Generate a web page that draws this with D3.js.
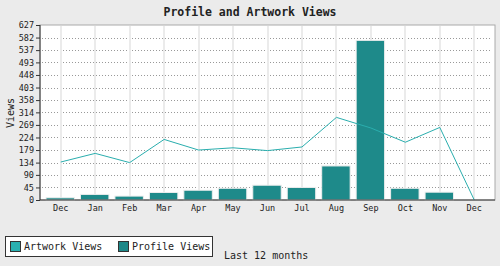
<!DOCTYPE html>
<html>
<head>
<meta charset="utf-8">
<script src="https://cdn.jsdelivr.net/npm/d3@7"></script>
<style>
  body { margin: 0; background: #ebebeb; }
  svg { display: block; font-family: "DejaVu Sans Mono", monospace; }
</style>
</head>
<body>
<svg width="500" height="266"></svg>
<script>
// data
var months = ["Dec", "Jan", "Feb", "Mar", "Apr", "May", "Jun", "Jul", "Aug", "Sep", "Oct", "Nov", "Dec"];
var artworkViews = [136, 167, 134, 217, 179, 187, 177, 190, 296, 258, 207, 260, 0];
var profileViews = [8, 20, 14, 27, 35, 42, 53, 45, 122, 572, 42, 28, 0];
var yMax = 627;
var yTicks = d3.range(15).map(function(i) { return Math.round(i * yMax / 14); });

var svg = d3.select("svg");
// plot box (note: "top" is taken by window.top, so use other names)
var plotL = 40, plotR = 495, plotT = 25, plotB = 200;

// keys are indexes because "Dec" appears twice
var x = d3.scaleBand()
    .domain(d3.range(months.length))
    .range([43.5, 491.5]);
var y = d3.scaleLinear()
    .domain([0, yMax])
    .range([plotB, plotT]);

// plot background
svg.append("rect")
    .attr("x", plotL).attr("y", plotT)
    .attr("width", plotR - plotL).attr("height", plotB - plotT)
    .attr("fill", "#fff")
    .attr("stroke", "#aaa");

// horizontal dotted grid
svg.append("g")
    .selectAll("line")
    .data(yTicks.slice(1, -1))
    .enter().append("line")
    .attr("x1", plotL + 2).attr("x2", plotR - 3)
    .attr("y1", function(d) { return Math.round(y(d)) + 0.5; })
    .attr("y2", function(d) { return Math.round(y(d)) + 0.5; })
    .attr("stroke", "#999")
    .attr("stroke-dasharray", "1,2");

// vertical grid at month centres
svg.append("g")
    .selectAll("line")
    .data(d3.range(months.length))
    .enter().append("line")
    .attr("x1", function(d) { return Math.round(x(d) + x.bandwidth() / 2); })
    .attr("x2", function(d) { return Math.round(x(d) + x.bandwidth() / 2); })
    .attr("y1", plotT + 1).attr("y2", plotB)
    .attr("stroke", "#ebebeb")
    .attr("stroke-width", 2);

// profile views bars
svg.append("g")
    .selectAll("rect")
    .data(profileViews)
    .enter().append("rect")
    .attr("x", function(d, i) { return x(i) + 2.5; })
    .attr("width", x.bandwidth() - 6)
    .attr("y", function(d) { return y(d); })
    .attr("height", function(d) { return plotB - y(d); })
    .attr("fill", "#1e8a8a")
    .attr("stroke", "#eeeeee")
    .attr("stroke-width", 1);

// artwork views line
var line = d3.line()
    .x(function(d, i) { return x(i) + x.bandwidth() / 2; })
    .y(function(d) { return y(d); });
svg.append("path")
    .datum(artworkViews)
    .attr("d", line)
    .attr("fill", "none")
    .attr("stroke", "#2aaeae")
    .attr("stroke-width", 1);

// axes
var yAxis = d3.axisLeft(y)
    .tickValues(yTicks)
    .tickSize(4)
    .tickPadding(2)
    .tickFormat(d3.format("d"));
var gy = svg.append("g")
    .attr("transform", "translate(" + plotL + ",0)")
    .call(yAxis);
gy.select(".domain").attr("stroke", "#333").attr("d", "M0," + plotT + "V" + plotB);
gy.selectAll("line").attr("stroke", "#333");
gy.selectAll("text").attr("font-size", 8.5).attr("font-family", "DejaVu Sans Mono").attr("fill", "#222");

var xAxis = d3.axisBottom(x)
    .tickSize(0)
    .tickPadding(5)
    .tickFormat(function(i) { return months[i]; });
var gx = svg.append("g")
    .attr("transform", "translate(0," + plotB + ")")
    .call(xAxis);
gx.select(".domain").attr("stroke", "#333").attr("d", "M" + plotL + ",0H" + plotR);
gx.selectAll("text").attr("font-size", 8.5).attr("font-family", "DejaVu Sans Mono").attr("fill", "#222");

// title and labels
svg.append("text")
    .attr("x", 250).attr("y", 16)
    .attr("text-anchor", "middle")
    .attr("font-size", 11.5)
    .attr("font-weight", "bold")
    .attr("fill", "#222")
    .text("Profile and Artwork Views");

svg.append("text")
    .attr("transform", "translate(14,113) rotate(-90)")
    .attr("text-anchor", "middle")
    .attr("font-size", 10)
    .attr("fill", "#222")
    .text("Views");

svg.append("text")
    .attr("x", 224).attr("y", 259)
    .attr("font-size", 10)
    .attr("fill", "#222")
    .text("Last 12 months");

// legend
var legend = svg.append("g");
legend.append("rect")
    .attr("x", 5.5).attr("y", 236.5)
    .attr("width", 207).attr("height", 20)
    .attr("fill", "#fff")
    .attr("stroke", "#333");
var legendItems = [
    { label: "Artwork Views", color: "#2ab0b0", x: 10 },
    { label: "Profile Views", color: "#1e8888", x: 118 }
];
var li = legend.selectAll(".item")
    .data(legendItems)
    .enter().append("g")
    .attr("class", "item");
li.append("rect")
    .attr("x", function(d) { return d.x + 0.5; })
    .attr("y", 241.5)
    .attr("width", 10).attr("height", 10)
    .attr("fill", function(d) { return d.color; })
    .attr("stroke", "#333");
li.append("text")
    .attr("x", function(d) { return d.x + 14; })
    .attr("y", 250)
    .attr("font-size", 10)
    .attr("fill", "#222")
    .text(function(d) { return d.label; });
</script>
</body>
</html>
